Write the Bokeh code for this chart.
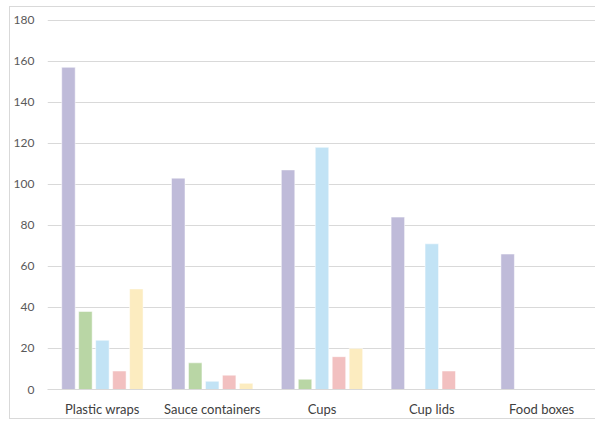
from bokeh.plotting import figure
from bokeh.models import ColumnDataSource, FactorRange, Range1d
from bokeh.transform import dodge
from bokeh.embed import file_html
from bokeh.resources import INLINE

categories = ["Plastic wraps", "Sauce containers", "Cups", "Cup lids", "Food boxes"]
series_a = [157, 103, 107, 84, 66]
series_b = [38, 13, 5, 0, 0]
series_c = [24, 4, 118, 71, 0]
series_d = [9, 7, 16, 9, 0]
series_e = [49, 3, 20, 0, 0]
y_ticks = [0, 20, 40, 60, 80, 100, 120, 140, 160, 180]

colors = ["#BFBBD9", "#B9D6A5", "#C2E3F5", "#F2C0C0", "#FCECC0"]

source = ColumnDataSource(dict(cat=categories, a=series_a, b=series_b,
                               c=series_c, d=series_d, e=series_e))

p = figure(width=586, height=413, x_range=FactorRange(*categories),
           y_range=Range1d(0, 180.3), output_backend="svg",
           toolbar_location=None,
           min_border_left=37, min_border_right=0, min_border_top=12,
           min_border_bottom=31)
p.margin = (6, 0, 0, 9)
p.styles = {"border-left": "1px solid #D9D9D9",
            "border-top": "1px solid #D9D9D9",
            "border-bottom": "1px solid #D9D9D9"}
p.outline_line_color = None
p.background_fill_color = "white"
p.border_fill_color = "white"

pitch = 17 / 110
offsets = [(-2 + i) * pitch for i in range(5)]
for key, off, col in zip(["a", "b", "c", "d", "e"], offsets, colors):
    p.vbar(x=dodge("cat", off, range=p.x_range), top=key, width=13.5 / 110,
           source=source, fill_color=col, line_color="white",
           line_alpha=0.5, line_width=1)

p.xgrid.grid_line_color = None
p.ygrid.grid_line_color = "#D9D9D9"
p.ygrid.grid_line_width = 1
p.yaxis.ticker = y_ticks
p.yaxis.axis_line_color = None
p.yaxis.major_tick_line_color = None
p.yaxis.minor_tick_line_color = None
p.yaxis.major_tick_out = 0
p.yaxis.major_label_standoff = 13
p.yaxis.major_label_text_font = "Lato"
p.yaxis.major_label_text_font_size = "12px"
p.yaxis.major_label_text_color = "#595959"

p.xaxis.axis_line_color = "#D9D9D9"
p.xaxis.major_tick_line_color = None
p.xaxis.minor_tick_line_color = None
p.xaxis.major_tick_out = 0
p.xaxis.major_label_standoff = 11
p.xaxis.major_label_text_font = "Lato"
p.xaxis.major_label_text_font_size = "13px"
p.xaxis.major_label_text_color = "#404040"

open("out.html", "w").write(file_html(p, INLINE))
